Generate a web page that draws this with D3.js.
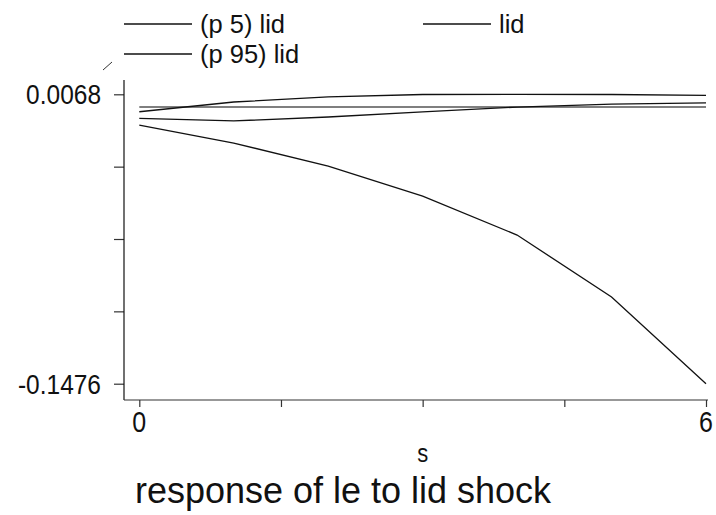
<!DOCTYPE html>
<html>
<head>
<meta charset="utf-8">
<script src="https://cdn.jsdelivr.net/npm/d3@7"></script>
<style>
  html, body { margin: 0; padding: 0; background: #fff; }
  svg { display: block; font-family: "Liberation Sans", Arial, sans-serif; }
</style>
</head>
<body>
<svg id="chart" width="716" height="515"></svg>
<script>
// ---- data ----
const steps = [0, 1, 2, 3, 4, 5, 6];
const lid   = [-0.0060, -0.0074, -0.0053, -0.0026, 0.0000, 0.0016, 0.0022];
const p5    = [-0.0096, -0.0192, -0.0315, -0.0475, -0.0683, -0.1013, -0.1476];
const p95   = [-0.0025, 0.0027, 0.0054, 0.0067, 0.0068, 0.0067, 0.0062];
const zeroLine = [0, 0, 0, 0, 0, 0, 0];
const yTicks = [0.0068, -0.0318, -0.0704, -0.1090, -0.1476];
const yTickLabels = ["0.0068", "", "", "", "-0.1476"];
const xTicks = [0, 1.5, 3, 4.5, 6];
const xTickLabels = ["0", "", "", "", "6"];
const legendLabels = ["(p 5) lid", "lid", "(p 95) lid"];
const xTitle = "s";
const chartTitle = "response of le to lid shock";

// ---- layout ----
const svg = d3.select("#chart");
const x = d3.scaleLinear().domain([0, 6]).range([139.3, 706]);
const y = d3.scaleLinear().domain([-0.1476, 0.0068]).range([383.7, 94.3]);

// helper: vertically stretched text (reference font is taller than wide)
function stretchedText(g, tx, ty, str, size, sy, anchor) {
  return g.append("text")
    .attr("transform", `translate(${tx},${ty}) scale(1,${sy})`)
    .attr("text-anchor", anchor || "start")
    .attr("font-size", size).attr("fill", "#111").text(str);
}

// zero reference line
const line = d3.line().x((d, i) => x(steps[i])).y(d => y(d));
svg.append("path").datum(zeroLine).attr("d", line)
  .attr("fill", "none").attr("stroke", "#7f7f7f").attr("stroke-width", 2);

// series lines
[p5, lid, p95].forEach(s => {
  svg.append("path").datum(s).attr("d", line)
    .attr("fill", "none").attr("stroke", "#111").attr("stroke-width", 1.3);
});

// y axis
const yAxis = d3.axisLeft(y).tickValues(yTicks).tickFormat(() => "").tickSize(10);
const gy = svg.append("g").attr("transform", "translate(124,0)").call(yAxis);
gy.select(".domain").remove();
gy.append("line").attr("x1", 0).attr("x2", 0).attr("y1", 80).attr("y2", 400)
  .attr("stroke", "#111").attr("stroke-width", 1.2);
gy.selectAll(".tick line").attr("stroke", "#333").attr("stroke-width", 1.2);
yTicks.forEach((v, i) => {
  if (yTickLabels[i]) stretchedText(svg, 101, y(v) + 10, yTickLabels[i], 24.5, 1.15, "end");
});

// x axis
const xAxis = d3.axisBottom(x).tickValues(xTicks).tickFormat(() => "").tickSize(7);
const gx = svg.append("g").attr("transform", "translate(0,400)").call(xAxis);
gx.select(".domain").remove();
gx.append("line").attr("x1", 124).attr("x2", 708).attr("y1", 0).attr("y2", 0)
  .attr("stroke", "#333").attr("stroke-width", 1.2);
gx.selectAll(".tick line").attr("stroke", "#333").attr("stroke-width", 1.2);
xTicks.forEach((v, i) => {
  if (xTickLabels[i]) stretchedText(svg, x(v), 432, xTickLabels[i], 25, 1.15, "middle");
});

// axis title
stretchedText(svg, x(3), 462, xTitle, 22, 1.2, "middle");

// chart title
stretchedText(svg, 343, 503, chartTitle, 36, 1.0, "middle");

// legend
const legendPos = [
  {lx: 124, ly: 24},
  {lx: 423, ly: 24},
  {lx: 124, ly: 54}
];
legendLabels.forEach((lab, i) => {
  const p = legendPos[i];
  svg.append("line").attr("x1", p.lx).attr("x2", p.lx + 68)
    .attr("y1", p.ly).attr("y2", p.ly).attr("stroke", "#111").attr("stroke-width", 1.3);
  stretchedText(svg, p.lx + 76, p.ly + 8.5, lab, 25.5, 1.02, "start");
});
// small stray mark near legend
svg.append("line").attr("x1", 103).attr("y1", 70).attr("x2", 112).attr("y2", 62)
  .attr("stroke", "#333").attr("stroke-width", 1);
</script>
</body>
</html>
